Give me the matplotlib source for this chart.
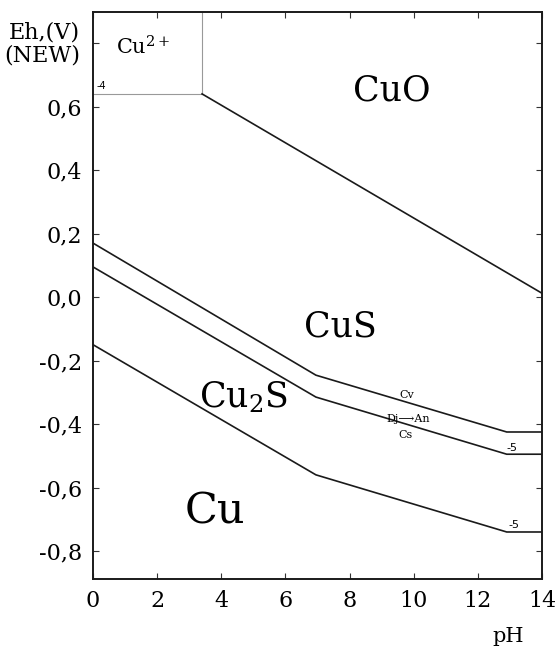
import matplotlib
matplotlib.use("Agg")
import matplotlib.pyplot as plt

plt.rcParams['font.family'] = ['DejaVu Serif', 'DejaVu Sans']
plt.rcParams['mathtext.fontset'] = 'dejavuserif'

# stability field boundaries, Eh (V) vs pH
cu2_ph = 3.4
cu2_eh = 0.64
cuo_ph = [3.4, 14.0]
cuo_eh = [0.64, 0.012]
cv_ph = [0.0, 6.95, 12.9, 14.0]
cv_eh = [0.17, -0.246, -0.425, -0.425]
cs_ph = [0.0, 6.95, 12.9, 14.0]
cs_eh = [0.095, -0.315, -0.495, -0.495]
cu_ph = [0.0, 6.95, 12.9, 14.0]
cu_eh = [-0.15, -0.56, -0.74, -0.74]

x_ticks = [0, 2, 4, 6, 8, 10, 12, 14]
y_ticks = [-0.8, -0.6, -0.4, -0.2, 0.0, 0.2, 0.4, 0.6, 0.8]
y_labels = ['-0,8', '-0,6', '-0,4', '-0,2', '0,0', '0,2', '0,4', '0,6', '']

fig = plt.figure(figsize=(5.55, 6.49), dpi=100)
ax = fig.add_axes([0.1676, 0.1079, 0.8090, 0.8736])

line_kw = dict(color='#1a1a1a', lw=1.2, solid_joinstyle='miter')
ax.plot([0, cu2_ph], [cu2_eh, cu2_eh], color='#999999', lw=0.8)
ax.plot([cu2_ph, cu2_ph], [cu2_eh, 1.0], color='#999999', lw=0.8)
ax.plot(cuo_ph, cuo_eh, **line_kw)
ax.plot(cv_ph, cv_eh, **line_kw)
ax.plot(cs_ph, cs_eh, **line_kw)
ax.plot(cu_ph, cu_eh, **line_kw)

ax.set_xlim(0, 14)
ax.set_ylim(-0.888, 0.898)
ax.set_xticks(x_ticks)
ax.set_xticklabels([str(t) for t in x_ticks], fontsize=16)
ax.set_yticks(y_ticks)
ax.set_yticklabels(y_labels, fontsize=16)
ax.tick_params(direction='in', length=4, width=0.8, top=True, right=True,
               pad=8, color='#333333')
for s in ax.spines.values():
    s.set_linewidth(1.4)
    s.set_color('#1a1a1a')

# field names
ax.text(1.56, 0.788, 'Cu$^{2+}$', fontsize=15, ha='center', va='center')
ax.text(9.32, 0.65, 'CuO', fontsize=25, ha='center', va='center')
ax.text(7.70, -0.094, 'CuS', fontsize=25, ha='center', va='center')
ax.text(4.68, -0.315, 'Cu$_2$S', fontsize=25, ha='center', va='center')
ax.text(3.80, -0.677, 'Cu', fontsize=31, ha='center', va='center')

ax.text(9.79, -0.309, 'Cv', fontsize=8, ha='center', va='center')
ax.text(9.82, -0.384, 'Dj\u27f6An', fontsize=8, ha='center', va='center')
ax.text(9.73, -0.435, 'Cs', fontsize=8, ha='center', va='center')

ax.text(0.1, 0.648, '-4', fontsize=7, family='DejaVu Sans', ha='left', va='bottom')
ax.text(12.9, -0.49, '-5', fontsize=8, family='DejaVu Sans', ha='left', va='bottom')
ax.text(12.95, -0.735, '-5', fontsize=8, family='DejaVu Sans', ha='left', va='bottom')

fig.text(80 / 555, 1 - 44 / 649, 'Eh,(V)\n(NEW)', fontsize=16, ha='right',
         va='center', linespacing=1.05)
fig.text(508 / 555, 1 - 636 / 649, 'pH', fontsize=15, ha='center', va='center')

fig.savefig('out.png', dpi=100)
